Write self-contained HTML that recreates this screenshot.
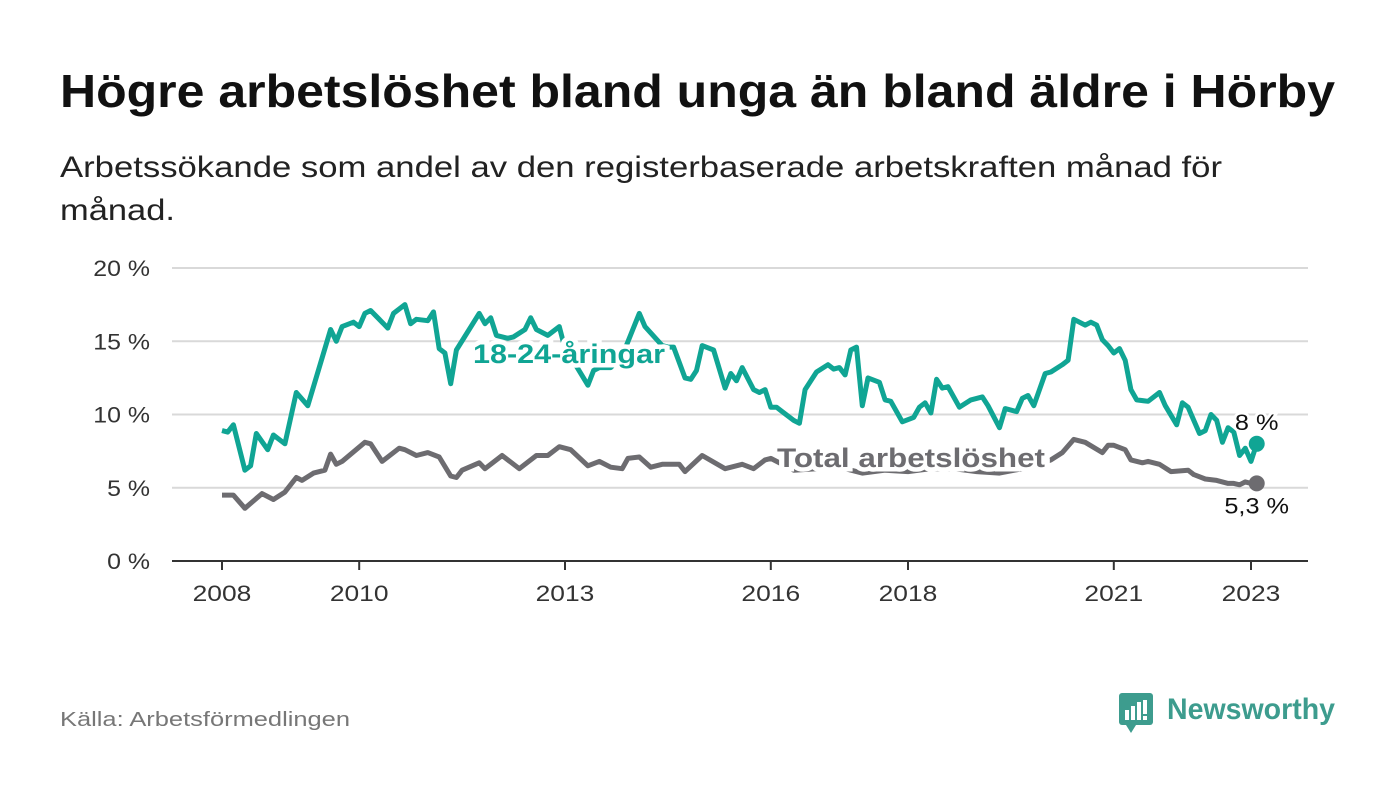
<!DOCTYPE html>
<html><head><meta charset="utf-8">
<style>
body{margin:0;background:#fff;width:1400px;height:794px;overflow:hidden;font-family:"Liberation Sans",sans-serif;}
</style></head>
<body>
<svg id="chart" width="1400" height="794" xmlns="http://www.w3.org/2000/svg" style="font-family:'Liberation Sans',sans-serif">
<text x="60" y="107" font-size="46" font-weight="bold" fill="#111" textLength="1275" lengthAdjust="spacingAndGlyphs">Högre arbetslöshet bland unga än bland äldre i Hörby</text>
<text x="60" y="177" font-size="30" fill="#222" textLength="1162" lengthAdjust="spacingAndGlyphs">Arbetssökande som andel av den registerbaserade arbetskraften månad för</text>
<text x="60" y="220" font-size="30" fill="#222" textLength="115" lengthAdjust="spacingAndGlyphs">månad.</text>
<g id="grid"></g><g id="axes"></g><g id="series"></g><g id="labels"></g>
<text x="60" y="726" font-size="20" fill="#777" textLength="290" lengthAdjust="spacingAndGlyphs">Källa: Arbetsförmedlingen</text>
<g>
<rect x="1119" y="693" width="34" height="32" rx="3" fill="#3d9c8e"/>
<polygon points="1126,725 1136,725 1131,733" fill="#3d9c8e"/>
<rect x="1125" y="710" width="4" height="10" fill="#fff"/><rect x="1131" y="706" width="4" height="14" fill="#fff"/><rect x="1137" y="702" width="4" height="18" fill="#fff"/><rect x="1143" y="700" width="4" height="14" fill="#fff"/><rect x="1143" y="716" width="4" height="4" fill="#fff"/>
<text x="1167" y="719" font-size="30" font-weight="bold" fill="#3d9c8e" textLength="168" lengthAdjust="spacingAndGlyphs">Newsworthy</text>
</g>
</svg>
<script>
const yTicks=[0,5,10,15,20];
const yTickLabels=["0 %","5 %","10 %","15 %","20 %"];
const xTickYears=[2008,2010,2013,2016,2018,2021,2023];
const youthMonths=[0,1,2,4,5,6,8,9,11,13,15,17,19,20,21,23,24,25,26,28,29,30,32,33,34,36,37,38,39,40,41,45,46,47,48,50,51,53,54,55,57,59,60,62,64,65,66,68,70,73,74,77,78,79,81,82,83,84,86,88,89,90,91,93,94,95,96,97,98,100,101,102,104,106,107,108,109,110,111,112,113,115,116,117,119,121,122,123,124,125,126,127,129,131,133,134,136,137,139,140,141,142,144,145,147,148,149,151,152,153,154,155,156,157,158,159,160,162,164,165,167,168,169,171,172,173,174,175,176,177,178,179,180,181];
const youthValues=[8.9,8.8,9.3,6.2,6.5,8.7,7.6,8.6,8.0,11.5,10.6,13.2,15.8,15.0,16.0,16.3,16.0,16.9,17.1,16.3,15.9,16.9,17.5,16.2,16.5,16.4,17.0,14.5,14.2,12.1,14.4,16.9,16.2,16.6,15.4,15.2,15.3,15.8,16.6,15.8,15.4,16.0,14.5,13.3,12.0,13.0,13.2,13.2,14.0,16.9,16.0,14.7,14.6,14.6,12.5,12.4,13.0,14.7,14.4,11.8,12.8,12.3,13.2,11.7,11.5,11.7,10.5,10.5,10.2,9.6,9.4,11.7,12.9,13.4,13.1,13.2,12.7,14.4,14.6,10.6,12.5,12.2,11.0,10.9,9.5,9.8,10.5,10.8,10.1,12.4,11.8,11.9,10.5,11.0,11.2,10.6,9.1,10.4,10.2,11.1,11.3,10.6,12.8,12.9,13.4,13.7,16.5,16.1,16.3,16.1,15.1,14.7,14.2,14.5,13.7,11.7,11.0,10.9,11.5,10.6,9.3,10.8,10.5,8.7,8.9,10.0,9.6,8.1,9.1,8.8,7.2,7.7,6.8,8.0];
const totalMonths=[0,2,4,7,9,11,13,14,16,18,19,20,21,25,26,28,31,32,34,36,38,40,41,42,45,46,49,52,55,57,59,61,64,66,68,70,71,73,75,77,80,81,84,88,91,93,95,96,100,104,108,112,116,120,124,128,132,136,140,143,145,147,149,151,154,155,156,158,159,161,162,164,166,169,170,172,174,176,177,178,179,180,181];
const totalValues=[4.5,4.5,3.6,4.6,4.2,4.7,5.7,5.5,6.0,6.2,7.3,6.6,6.8,8.1,8.0,6.8,7.7,7.6,7.2,7.4,7.1,5.8,5.7,6.2,6.7,6.3,7.2,6.3,7.2,7.2,7.8,7.6,6.5,6.8,6.4,6.3,7.0,7.1,6.4,6.6,6.6,6.1,7.2,6.3,6.6,6.3,6.9,7.0,6.2,6.3,6.4,6.0,6.2,6.1,6.3,6.3,6.1,6.0,6.3,6.6,6.9,7.4,8.3,8.1,7.4,7.9,7.9,7.6,6.9,6.7,6.8,6.6,6.1,6.2,5.9,5.6,5.5,5.3,5.3,5.2,5.4,5.3,5.3];
const endLabels=["8 %","5,3 %"];
const NS="http://www.w3.org/2000/svg";
const x0=222,pxPerYear=68.6,yBase=561,pxPerPct=14.65;
const xOf=m=>x0+m*pxPerYear/12;
const xYear=y=>x0+(y-2008)*pxPerYear;
const yOf=v=>yBase-v*pxPerPct;
function mk(tag,attrs,parent,txt){const e=document.createElementNS(NS,tag);for(const k in attrs)e.setAttribute(k,attrs[k]);if(txt!==undefined)e.textContent=txt;parent.appendChild(e);return e;}
function widen(el,f){const w=el.getComputedTextLength();el.setAttribute('textLength',(w*f).toFixed(1));el.setAttribute('lengthAdjust','spacingAndGlyphs');}
const grid=document.getElementById('grid'),axes=document.getElementById('axes'),series=document.getElementById('series'),labels=document.getElementById('labels');
yTicks.forEach((t,i)=>{
  if(t>0){const g=mk('line',{x1:172,x2:1308,y1:yOf(t),y2:yOf(t),stroke:'#d9d9d9','stroke-width':2},grid);
  
  }
  const l=mk('text',{x:150,y:yOf(t)+8,'text-anchor':'end','font-size':22,fill:'#333'},axes,yTickLabels[i]);
  
  
  widen(l,1.13);
});
const base=mk('line',{x1:172,x2:1308,y1:yBase,y2:yBase,stroke:'#333','stroke-width':2},axes);


xTickYears.forEach(y=>{
  const tk=mk('line',{x1:xYear(y),x2:xYear(y),y1:yBase,y2:yBase+9,stroke:'#333','stroke-width':2},axes);
  
  
  const l=mk('text',{x:xYear(y),y:601,'text-anchor':'middle','font-size':22,fill:'#333'},axes,String(y));
  
  
  widen(l,1.2);
});
function path(ms,vs){return ms.map((m,i)=>(i?'L':'M')+xOf(m).toFixed(1)+','+yOf(vs[i]).toFixed(1)).join(' ');}
const pt=mk('path',{d:path(totalMonths,totalValues),fill:'none',stroke:'#6d6c70','stroke-width':5,'stroke-linejoin':'round'},series);


const py=mk('path',{d:path(youthMonths,youthValues),fill:'none',stroke:'#10a594','stroke-width':5,'stroke-linejoin':'round'},series);


const ly=mk('text',{x:473,y:363,'font-size':27,'font-weight':'bold',fill:'#10a594',stroke:'#fff','stroke-width':9,'paint-order':'stroke',textLength:192,lengthAdjust:'spacingAndGlyphs'},labels,'18-24-åringar');


const lt=mk('text',{x:777,y:467,'font-size':27,'font-weight':'bold',fill:'#6d6c70',stroke:'#fff','stroke-width':9,'paint-order':'stroke',textLength:268,lengthAdjust:'spacingAndGlyphs'},labels,'Total arbetslöshet');


const yl=youthMonths.length-1,tl=totalMonths.length-1;
const dy=mk('circle',{cx:xOf(youthMonths[yl]),cy:yOf(youthValues[yl]),r:8,fill:'#10a594'},labels);


const dt=mk('circle',{cx:xOf(totalMonths[tl]),cy:yOf(totalValues[tl]),r:8,fill:'#6d6c70'},labels);


const ey=mk('text',{x:xOf(youthMonths[yl]),y:yOf(youthValues[yl])-14,'text-anchor':'middle','font-size':22,fill:'#111',stroke:'#fff','stroke-width':5,'paint-order':'stroke'},labels,endLabels[0]);


widen(ey,1.15);
const et=mk('text',{x:xOf(totalMonths[tl]),y:yOf(totalValues[tl])+30,'text-anchor':'middle','font-size':22,fill:'#111',stroke:'#fff','stroke-width':5,'paint-order':'stroke'},labels,endLabels[1]);


widen(et,1.15);
</script>
</body></html>
